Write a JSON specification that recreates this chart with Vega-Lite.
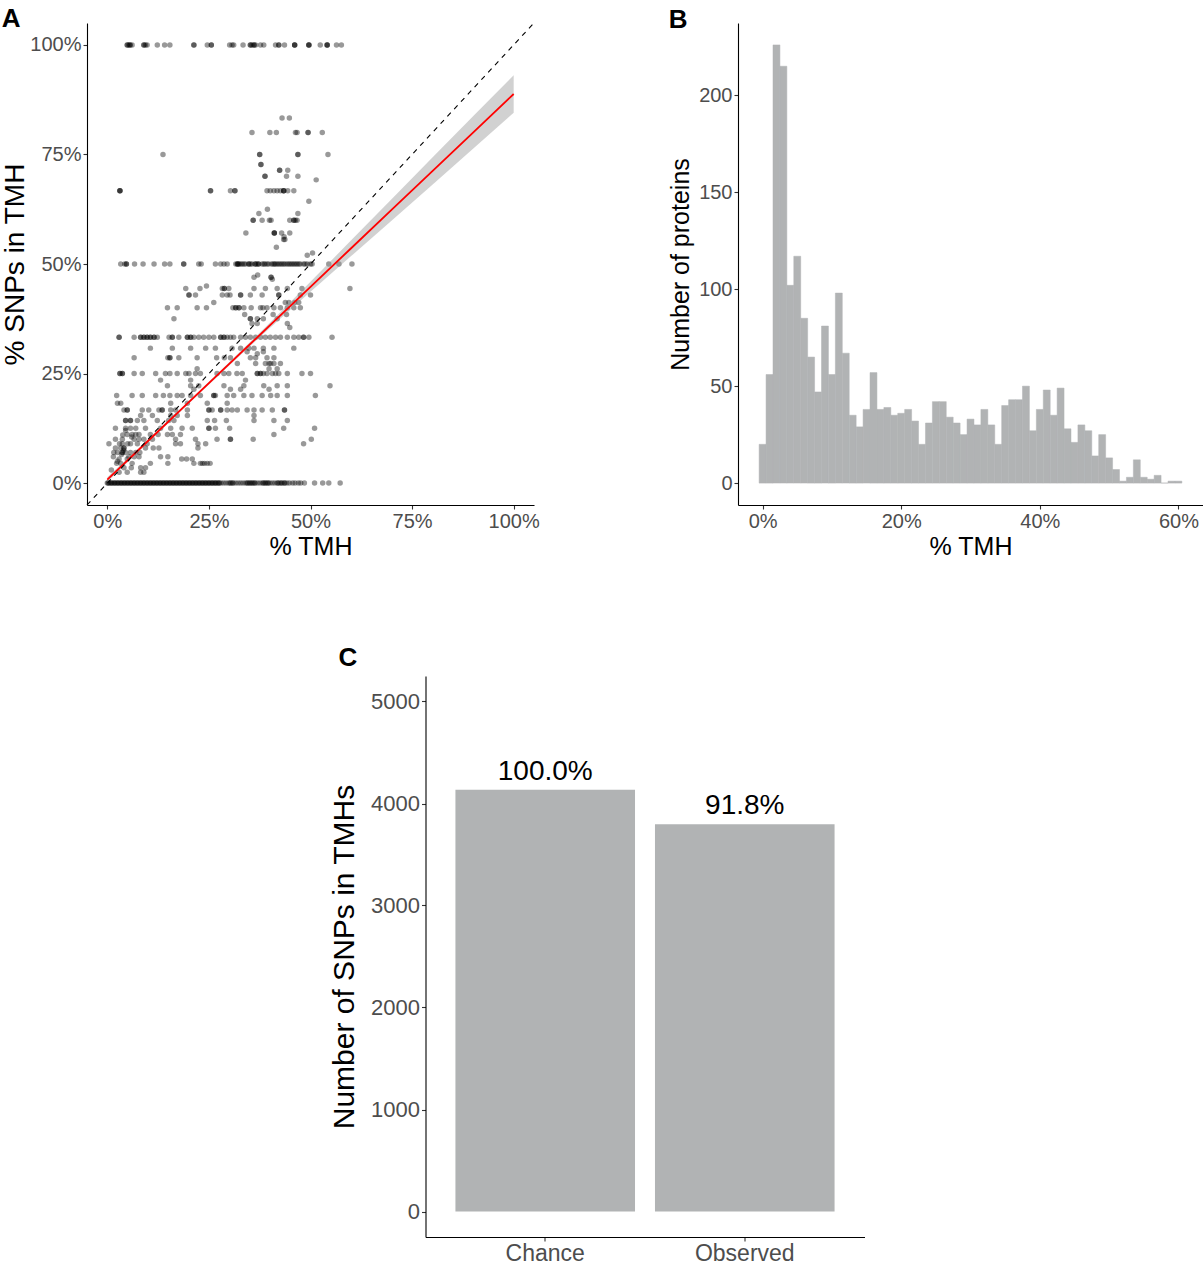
{
"$schema": "https://vega.github.io/schema/vega-lite/v6.json",
"autosize": {"type": "pad"},
"padding": {"left": 1, "top": 6, "right": 0, "bottom": 0},
"background": "white",
"config": {
 "font": "Liberation Sans",
 "view": {"stroke": null},
 "axis": {"domainColor": "black", "domainWidth": 1.1, "tickColor": "#333333", "tickWidth": 1.1, "tickSize": 4, "labelColor": "#4d4d4d", "titleColor": "black", "titleFontWeight": "normal", "grid": false, "labelPadding": 2, "labelFont": "Liberation Sans", "titleFont": "Liberation Sans"},
 "title": {"anchor": "start", "fontSize": 26, "fontWeight": "bold", "frame": "bounds", "baseline": "alphabetic", "font": "Liberation Sans", "color": "black"}
},
"center": true,
"spacing": 86,
"vconcat": [
 {
  "spacing": 128,
  "hconcat": [
   {
    "title": {"text": "A", "offset": -10},
    "width": 447,
    "height": 482,
    "encoding": {
     "x": {"field": "x", "type": "quantitative", "scale": {"domain": [-5, 105], "nice": false, "zero": false}, "axis": {"values": [0, 25, 50, 75, 100], "labelExpr": "datum.value + '%'", "title": "% TMH", "titleFontSize": 25, "labelFontSize": 20, "titlePadding": 3}},
     "y": {"field": "y", "type": "quantitative", "scale": {"domain": [-5, 105], "nice": false, "zero": false}, "axis": {"values": [0, 25, 50, 75, 100], "labelExpr": "datum.value + '%'", "title": "% SNPs in TMH", "titleFontSize": 28, "labelFontSize": 20, "titlePadding": 0}}
    },
    "layer": [
     {
      "data": {"values": [
{"x":4.9,"y":100},{"x":4.9,"y":100},{"x":5.3,"y":100},{"x":5.6,"y":100},{"x":5.6,"y":100},{"x":6.1,"y":100},{"x":9.0,"y":100},{"x":9.0,"y":100},{"x":9.4,"y":100},{"x":9.8,"y":100},{"x":12.3,"y":100},{"x":14.1,"y":100},{"x":15.4,"y":100},{"x":21.3,"y":100},{"x":21.3,"y":100},{"x":24.6,"y":100},{"x":25.6,"y":100},{"x":25.6,"y":100},{"x":30.1,"y":100},{"x":30.7,"y":100},{"x":31.1,"y":100},{"x":33.4,"y":100},{"x":35.2,"y":100},{"x":35.2,"y":100},{"x":35.6,"y":100},{"x":36.1,"y":100},{"x":36.1,"y":100},{"x":36.5,"y":100},{"x":37.7,"y":100},{"x":38.5,"y":100},{"x":41.4,"y":100},{"x":42.2,"y":100},{"x":42.2,"y":100},{"x":43.6,"y":100},{"x":46.1,"y":100},{"x":46.1,"y":100},{"x":46.1,"y":100},{"x":49.6,"y":100},{"x":49.6,"y":100},{"x":49.6,"y":100},{"x":52.4,"y":100},{"x":54.1,"y":100},{"x":54.1,"y":100},{"x":54.1,"y":100},{"x":56.4,"y":100},{"x":57.6,"y":100},
{"x":43.0,"y":83.3},{"x":44.8,"y":83.3},
{"x":35.6,"y":80},{"x":40.0,"y":80},{"x":41.6,"y":80},{"x":46.3,"y":80},{"x":46.7,"y":80},{"x":49.4,"y":80},{"x":49.4,"y":80},{"x":52.9,"y":80},
{"x":13.7,"y":75},{"x":37.5,"y":75},{"x":37.5,"y":75},{"x":46.9,"y":75},{"x":46.9,"y":75},{"x":54.3,"y":75},
{"x":37.8,"y":72.7},{"x":37.8,"y":72.7},
{"x":42.4,"y":71.4},{"x":42.4,"y":71.4},{"x":44.4,"y":71.4},
{"x":38.8,"y":70},{"x":38.8,"y":70},{"x":44.1,"y":70},{"x":46.9,"y":70},
{"x":51.4,"y":69.2},
{"x":3.1,"y":66.7},{"x":3.1,"y":66.7},{"x":3.1,"y":66.7},{"x":25.4,"y":66.7},{"x":25.4,"y":66.7},{"x":30.3,"y":66.7},{"x":31.4,"y":66.7},{"x":31.4,"y":66.7},{"x":39.3,"y":66.7},{"x":40.1,"y":66.7},{"x":41.0,"y":66.7},{"x":41.8,"y":66.7},{"x":42.6,"y":66.7},{"x":43.4,"y":66.7},{"x":43.4,"y":66.7},{"x":43.4,"y":66.7},{"x":44.4,"y":66.7},{"x":45.9,"y":66.7},
{"x":49.6,"y":64.3},
{"x":39.4,"y":62.5},
{"x":37.3,"y":61.5},{"x":46.9,"y":61.5},
{"x":35.9,"y":60},{"x":35.9,"y":60},{"x":38.1,"y":60},{"x":39.9,"y":60},{"x":40.3,"y":60},{"x":44.9,"y":60},{"x":45.9,"y":60},{"x":45.9,"y":60},{"x":46.3,"y":60},{"x":46.7,"y":60},
{"x":34.1,"y":57.1},{"x":41.1,"y":57.1},{"x":41.1,"y":57.1},{"x":41.1,"y":57.1},{"x":42.9,"y":57.1},{"x":44.9,"y":57.1},
{"x":43.4,"y":55.6},{"x":43.7,"y":55.6},{"x":43.5,"y":56.2},
{"x":41.6,"y":53.8},
{"x":49.2,"y":52},{"x":50.5,"y":52.5},
{"x":3.3,"y":50},{"x":4.3,"y":50},{"x":4.7,"y":50},{"x":4.7,"y":50},{"x":6.7,"y":50},{"x":8.8,"y":50},{"x":11.5,"y":50},{"x":14.1,"y":50},{"x":15.4,"y":50},{"x":18.8,"y":50},{"x":18.8,"y":50},{"x":22.5,"y":50},{"x":23.1,"y":50},{"x":26.6,"y":50},{"x":27.9,"y":50},{"x":28.7,"y":50},{"x":29.5,"y":50},{"x":31.6,"y":50},{"x":32.0,"y":50},{"x":32.0,"y":50},{"x":32.4,"y":50},{"x":32.8,"y":50},{"x":33.6,"y":50},{"x":34.0,"y":50},{"x":34.8,"y":50},{"x":34.8,"y":50},{"x":35.6,"y":50},{"x":36.4,"y":50},{"x":36.4,"y":50},{"x":37.2,"y":50},{"x":37.2,"y":50},{"x":38.1,"y":50},{"x":38.5,"y":50},{"x":39.3,"y":50},{"x":39.7,"y":50},{"x":40.8,"y":50},{"x":41.4,"y":50},{"x":41.8,"y":50},{"x":42.2,"y":50},{"x":42.6,"y":50},{"x":43.0,"y":50},{"x":43.8,"y":50},{"x":44.3,"y":50},{"x":45.1,"y":50},{"x":45.5,"y":50},{"x":45.9,"y":50},{"x":46.7,"y":50},{"x":47.1,"y":50},{"x":47.5,"y":50},{"x":48.3,"y":50},{"x":49.2,"y":50},{"x":50.0,"y":50},{"x":50.4,"y":50},{"x":54.5,"y":50},{"x":57.0,"y":50},{"x":60.2,"y":50},
{"x":32.2,"y":50},{"x":33.2,"y":50},{"x":35.2,"y":50},{"x":36.8,"y":50},{"x":38.8,"y":50},{"x":40.4,"y":50},{"x":41.1,"y":50},{"x":43.4,"y":50},{"x":44.7,"y":50},{"x":46.3,"y":50},{"x":48.7,"y":50},
{"x":36.1,"y":47},{"x":37.0,"y":47.5},{"x":40.3,"y":47},{"x":40.3,"y":47},{"x":40.6,"y":46.5},
{"x":19.3,"y":44.4},{"x":22.8,"y":44.4},{"x":24.4,"y":45},{"x":28.3,"y":44.4},{"x":28.8,"y":44.4},{"x":28.8,"y":44.4},{"x":29.9,"y":44.4},{"x":36.1,"y":44.4},{"x":38.9,"y":44.4},{"x":41.8,"y":44.4},{"x":44.3,"y":44.4},{"x":47.9,"y":44.4},{"x":59.7,"y":44.4},
{"x":20.1,"y":42.9},{"x":20.1,"y":42.9},{"x":21.7,"y":42.9},{"x":28.3,"y":42.9},{"x":29.5,"y":42.9},{"x":30.2,"y":42.9},{"x":32.8,"y":42.9},{"x":32.8,"y":42.9},{"x":35.2,"y":42.9},{"x":38.1,"y":42.9},{"x":42.2,"y":42.9},{"x":42.2,"y":42.9},{"x":47.5,"y":42.9},{"x":50.0,"y":42.9},
{"x":26.2,"y":41.2},{"x":43.8,"y":41.2},{"x":44.7,"y":41.2},{"x":46.1,"y":41.2},{"x":47.1,"y":41.2},
{"x":14.8,"y":40},{"x":17.2,"y":40},{"x":22.1,"y":40},{"x":24.4,"y":40},{"x":30.9,"y":40},{"x":31.6,"y":40},{"x":31.6,"y":40},{"x":32.4,"y":40},{"x":32.4,"y":40},{"x":33.6,"y":40},{"x":35.4,"y":40},{"x":37.7,"y":40},{"x":38.3,"y":40},{"x":39.3,"y":40},{"x":41.0,"y":40},{"x":42.6,"y":40},{"x":44.3,"y":40},{"x":45.9,"y":40},{"x":47.5,"y":40},
{"x":33.8,"y":38.5},{"x":40.8,"y":38.5},{"x":44.1,"y":38.5},
{"x":16.4,"y":37.5},{"x":35.2,"y":37.5},{"x":35.2,"y":37.5},{"x":36.9,"y":37.5},{"x":38.4,"y":37.5},{"x":41.8,"y":37.5},
{"x":35.6,"y":36.4},{"x":36.9,"y":36.4},{"x":44.3,"y":36.4},{"x":44.9,"y":35.5},
{"x":2.9,"y":33.3},{"x":2.9,"y":33.3},{"x":6.6,"y":33.3},{"x":8.2,"y":33.3},{"x":8.2,"y":33.3},{"x":9.0,"y":33.3},{"x":9.0,"y":33.3},{"x":9.8,"y":33.3},{"x":9.8,"y":33.3},{"x":10.6,"y":33.3},{"x":10.6,"y":33.3},{"x":11.5,"y":33.3},{"x":11.5,"y":33.3},{"x":12.3,"y":33.3},{"x":15.2,"y":33.3},{"x":16.0,"y":33.3},{"x":16.0,"y":33.3},{"x":17.6,"y":33.3},{"x":19.7,"y":33.3},{"x":19.7,"y":33.3},{"x":20.5,"y":33.3},{"x":20.5,"y":33.3},{"x":21.3,"y":33.3},{"x":22.5,"y":33.3},{"x":23.7,"y":33.3},{"x":25.0,"y":33.3},{"x":26.2,"y":33.3},{"x":27.9,"y":33.3},{"x":27.9,"y":33.3},{"x":28.7,"y":33.3},{"x":28.7,"y":33.3},{"x":29.5,"y":33.3},{"x":30.3,"y":33.3},{"x":31.1,"y":33.3},{"x":32.8,"y":33.3},{"x":34.0,"y":33.3},{"x":35.2,"y":33.3},{"x":36.5,"y":33.3},{"x":37.7,"y":33.3},{"x":38.9,"y":33.3},{"x":40.1,"y":33.3},{"x":41.4,"y":33.3},{"x":42.6,"y":33.3},{"x":44.3,"y":33.3},{"x":45.9,"y":33.3},{"x":47.1,"y":33.3},{"x":48.3,"y":33.3},{"x":48.3,"y":33.3},{"x":49.6,"y":33.3},{"x":55.3,"y":33.3},
{"x":10.6,"y":30.8},{"x":16.0,"y":30.8},{"x":20.5,"y":30.8},{"x":24.2,"y":30.8},{"x":26.6,"y":30.8},{"x":30.7,"y":30.8},{"x":32.8,"y":30.8},{"x":34.8,"y":30.8},{"x":36.1,"y":30.8},{"x":38.4,"y":30.8},{"x":41.0,"y":30.8},{"x":45.9,"y":30.8},
{"x":34.4,"y":30},{"x":36.9,"y":29.5},{"x":38.4,"y":30},
{"x":6.6,"y":28.6},{"x":14.9,"y":28.6},{"x":15.4,"y":28.6},{"x":15.4,"y":28.6},{"x":17.6,"y":28.6},{"x":22.1,"y":28.6},{"x":26.9,"y":28.6},{"x":28.8,"y":28.6},{"x":30.3,"y":28.6},{"x":35.2,"y":28.6},{"x":36.5,"y":28.6},{"x":39.3,"y":28.6},{"x":41.0,"y":28.6},
{"x":32.0,"y":27.3},{"x":36.5,"y":27.3},{"x":38.9,"y":27.3},{"x":39.8,"y":27.3},{"x":40.2,"y":27.3},{"x":41.0,"y":27.3},{"x":42.6,"y":27.3},
{"x":22.1,"y":26.1},{"x":39.8,"y":26.1},{"x":41.8,"y":26.1},
{"x":3.1,"y":25},{"x":3.1,"y":25},{"x":3.7,"y":25},{"x":3.7,"y":25},{"x":6.6,"y":25},{"x":8.6,"y":25},{"x":11.9,"y":25},{"x":14.3,"y":25},{"x":15.4,"y":25},{"x":17.2,"y":25},{"x":19.3,"y":25},{"x":20.1,"y":25},{"x":21.7,"y":25},{"x":22.9,"y":25},{"x":27.0,"y":25},{"x":28.7,"y":25},{"x":29.9,"y":25},{"x":31.9,"y":25},{"x":33.2,"y":25},{"x":36.9,"y":25},{"x":36.9,"y":25},{"x":37.7,"y":25},{"x":37.7,"y":25},{"x":38.4,"y":25},{"x":39.3,"y":25},{"x":40.6,"y":25},{"x":41.4,"y":25},{"x":42.2,"y":25},{"x":44.3,"y":25},{"x":47.9,"y":25},{"x":50.0,"y":25},
{"x":13.1,"y":23.5},{"x":20.5,"y":23.5},{"x":34.0,"y":23.5},
{"x":14.8,"y":22.2},{"x":20.5,"y":22.2},{"x":22.5,"y":22.2},{"x":28.7,"y":22.2},{"x":33.6,"y":22.2},{"x":38.5,"y":22.2},{"x":41.8,"y":22.2},{"x":44.3,"y":22.2},{"x":54.8,"y":22.2},
{"x":21.3,"y":21.4},{"x":30.3,"y":21.4},{"x":32.8,"y":21.4},{"x":39.8,"y":21.4},
{"x":2.3,"y":20},{"x":6.1,"y":20},{"x":8.6,"y":20},{"x":11.9,"y":20},{"x":13.8,"y":20},{"x":15.4,"y":20},{"x":17.2,"y":20},{"x":18.4,"y":20},{"x":20.5,"y":20},{"x":22.9,"y":20},{"x":26.2,"y":20},{"x":26.2,"y":20},{"x":26.6,"y":20},{"x":29.5,"y":20},{"x":31.1,"y":20},{"x":33.6,"y":20},{"x":35.6,"y":20},{"x":38.1,"y":20},{"x":40.2,"y":20},{"x":41.8,"y":20},{"x":44.3,"y":20},{"x":51.2,"y":20},
{"x":2.5,"y":18.2},{"x":3.3,"y":18.2},{"x":15.6,"y":18.2},{"x":19.7,"y":18.2},{"x":24.6,"y":18.2},{"x":29.5,"y":18.2},
{"x":4.1,"y":16.7},{"x":4.9,"y":16.7},{"x":4.9,"y":16.7},{"x":8.6,"y":16.7},{"x":10.2,"y":16.7},{"x":12.7,"y":16.7},{"x":13.5,"y":16.7},{"x":13.5,"y":16.7},{"x":15.6,"y":16.7},{"x":16.8,"y":16.7},{"x":19.7,"y":16.7},{"x":25.0,"y":16.7},{"x":25.0,"y":16.7},{"x":25.8,"y":16.7},{"x":27.9,"y":16.7},{"x":27.9,"y":16.7},{"x":29.5,"y":16.7},{"x":30.7,"y":16.7},{"x":32.0,"y":16.7},{"x":34.4,"y":16.7},{"x":36.1,"y":16.7},{"x":38.1,"y":16.7},{"x":40.6,"y":16.7},{"x":43.6,"y":16.7},{"x":43.6,"y":16.7},
{"x":8.2,"y":15.4},{"x":11.1,"y":15.4},{"x":15.6,"y":15.4},{"x":17.2,"y":15.4},{"x":19.7,"y":15.4},{"x":36.1,"y":15.4},
{"x":4.5,"y":14.3},{"x":4.5,"y":14.3},{"x":5.7,"y":14.3},{"x":5.7,"y":14.3},{"x":7.4,"y":14.3},{"x":9.0,"y":14.3},{"x":12.3,"y":14.3},{"x":15.1,"y":14.3},{"x":16.4,"y":14.3},{"x":24.6,"y":14.3},{"x":26.4,"y":14.3},{"x":29.3,"y":14.3},{"x":36.1,"y":14.3},{"x":41.0,"y":14.3},{"x":44.3,"y":14.3},
{"x":4.5,"y":12.5},{"x":5.7,"y":12.5},{"x":7.0,"y":12.5},{"x":9.4,"y":12.5},{"x":13.1,"y":12.5},{"x":15.6,"y":12.5},{"x":18.4,"y":12.5},{"x":20.9,"y":12.5},{"x":25.0,"y":12.5},{"x":25.0,"y":12.5},{"x":26.6,"y":12.5},{"x":30.1,"y":12.5},{"x":43.4,"y":12.5},{"x":51.0,"y":12.5},
{"x":4.9,"y":11.1},{"x":6.1,"y":11.1},{"x":7.0,"y":11.1},{"x":7.8,"y":11.1},{"x":10.6,"y":11.1},{"x":12.5,"y":11.1},{"x":14.8,"y":11.1},{"x":16.0,"y":11.1},{"x":18.0,"y":11.1},{"x":41.0,"y":11.1},
{"x":2.0,"y":10},{"x":3.7,"y":10},{"x":6.6,"y":10},{"x":7.8,"y":10},{"x":9.0,"y":10},{"x":11.1,"y":10},{"x":16.8,"y":10},{"x":21.7,"y":10},{"x":27.0,"y":10},{"x":30.3,"y":10},{"x":30.3,"y":10},{"x":35.9,"y":10},{"x":50.2,"y":10},
{"x":0.4,"y":9},{"x":3.7,"y":9},{"x":5.7,"y":9},{"x":7.4,"y":9},{"x":9.8,"y":9},{"x":16.8,"y":9},{"x":18.0,"y":9},{"x":22.3,"y":9},{"x":24.2,"y":9},{"x":48.3,"y":9},
{"x":3.3,"y":8},{"x":4.1,"y":8},{"x":4.1,"y":8},{"x":9.4,"y":8},{"x":11.3,"y":8},{"x":12.7,"y":8},{"x":22.3,"y":8},
{"x":1.6,"y":7},{"x":2.5,"y":7},{"x":3.7,"y":7},{"x":3.7,"y":7},{"x":4.5,"y":7},{"x":5.7,"y":7},{"x":7.0,"y":7},{"x":8.0,"y":7},
{"x":5.3,"y":6},{"x":6.6,"y":6},{"x":7.8,"y":6},{"x":13.1,"y":6},{"x":14.9,"y":6},
{"x":2.9,"y":5.5},{"x":4.9,"y":5.5},{"x":18.3,"y":5.5},{"x":19.5,"y":5.5},{"x":20.9,"y":5.5},
{"x":2.3,"y":4.5},{"x":3.3,"y":4.5},{"x":6.1,"y":4.5},{"x":10.6,"y":4.5},{"x":14.9,"y":4.5},{"x":21.3,"y":4.5},{"x":22.9,"y":4.5},{"x":23.4,"y":4.5},{"x":23.9,"y":4.5},{"x":24.6,"y":4.5},{"x":25.3,"y":4.5},
{"x":4.1,"y":3.5},{"x":5.9,"y":3.5},{"x":8.2,"y":3.5},{"x":9.4,"y":3.5},
{"x":2.9,"y":2.5},{"x":4.9,"y":2.5},{"x":8.2,"y":2.5},{"x":9.0,"y":2.5},
{"x":1.5,"y":6},{"x":2.0,"y":8},{"x":3.0,"y":9},{"x":2.5,"y":5},{"x":3.5,"y":6.5},{"x":4.0,"y":7.5},{"x":5.0,"y":9},{"x":6.0,"y":10.5},{"x":4.5,"y":12},{"x":3.8,"y":11},{"x":2.0,"y":12.5},{"x":1.0,"y":3},
{"x":0,"y":0},{"x":0.4,"y":0},{"x":0.8,"y":0},{"x":1.2,"y":0},{"x":1.6,"y":0},{"x":2,"y":0},{"x":2.4,"y":0},{"x":2.8,"y":0},{"x":3.2,"y":0},{"x":3.6,"y":0},{"x":4,"y":0},{"x":4.4,"y":0},{"x":4.8,"y":0},{"x":5.2,"y":0},{"x":5.6,"y":0},{"x":6,"y":0},{"x":6.4,"y":0},{"x":6.8,"y":0},{"x":7.2,"y":0},{"x":7.6,"y":0},{"x":8,"y":0},{"x":8.4,"y":0},{"x":8.8,"y":0},{"x":9.2,"y":0},{"x":9.6,"y":0},{"x":10,"y":0},{"x":10.4,"y":0},{"x":10.8,"y":0},{"x":11.2,"y":0},{"x":11.6,"y":0},{"x":12,"y":0},{"x":12.4,"y":0},{"x":12.8,"y":0},{"x":13.2,"y":0},{"x":13.6,"y":0},{"x":14,"y":0},{"x":14.4,"y":0},{"x":14.8,"y":0},{"x":15.2,"y":0},{"x":15.6,"y":0},{"x":16,"y":0},{"x":16.4,"y":0},{"x":16.8,"y":0},{"x":17.2,"y":0},{"x":17.6,"y":0},{"x":18,"y":0},{"x":18.4,"y":0},{"x":18.8,"y":0},{"x":19.2,"y":0},{"x":19.6,"y":0},{"x":20,"y":0},{"x":20.4,"y":0},{"x":20.8,"y":0},{"x":21.2,"y":0},{"x":21.6,"y":0},{"x":22,"y":0},{"x":22.4,"y":0},{"x":22.8,"y":0},{"x":23.2,"y":0},{"x":23.6,"y":0},{"x":24,"y":0},{"x":24.4,"y":0},{"x":24.8,"y":0},{"x":25.2,"y":0},{"x":25.6,"y":0},{"x":26,"y":0},{"x":26.4,"y":0},{"x":26.8,"y":0},{"x":27.2,"y":0},{"x":27.6,"y":0},{"x":28,"y":0},
{"x":0.2,"y":0},{"x":1,"y":0},{"x":1.8,"y":0},{"x":2.6,"y":0},{"x":3.4,"y":0},{"x":4.2,"y":0},{"x":5,"y":0},{"x":5.8,"y":0},{"x":6.6,"y":0},{"x":7.4,"y":0},{"x":8.2,"y":0},{"x":9,"y":0},{"x":9.8,"y":0},{"x":10.6,"y":0},{"x":11.4,"y":0},{"x":12.2,"y":0},{"x":13,"y":0},{"x":13.8,"y":0},{"x":14.6,"y":0},{"x":15.4,"y":0},{"x":16.2,"y":0},{"x":17,"y":0},{"x":17.8,"y":0},{"x":18.6,"y":0},{"x":19.4,"y":0},{"x":20.2,"y":0},{"x":21,"y":0},{"x":21.8,"y":0},{"x":22.6,"y":0},{"x":23.4,"y":0},{"x":24.2,"y":0},{"x":25,"y":0},{"x":25.8,"y":0},{"x":26.6,"y":0},{"x":27.4,"y":0},
{"x":28.6,"y":0},{"x":29.2,"y":0},{"x":29.8,"y":0},{"x":30.4,"y":0},{"x":31,"y":0},{"x":31.6,"y":0},{"x":32.2,"y":0},{"x":32.8,"y":0},{"x":33.4,"y":0},{"x":34,"y":0},{"x":34.6,"y":0},{"x":35.2,"y":0},{"x":35.8,"y":0},{"x":36.4,"y":0},{"x":37,"y":0},{"x":37.6,"y":0},{"x":38.2,"y":0},{"x":38.8,"y":0},{"x":39.4,"y":0},{"x":40,"y":0},{"x":40.6,"y":0},{"x":41.2,"y":0},{"x":41.8,"y":0},{"x":42.4,"y":0},{"x":43,"y":0},{"x":43.6,"y":0},{"x":44.2,"y":0},{"x":44.8,"y":0},
{"x":30.2,"y":0},{"x":30.8,"y":0},{"x":34.4,"y":0},{"x":35,"y":0},{"x":35.6,"y":0},{"x":36.2,"y":0},{"x":38.4,"y":0},{"x":39,"y":0},{"x":39.6,"y":0},{"x":42,"y":0},{"x":42.8,"y":0},{"x":43.6,"y":0},
{"x":45.6,"y":0},{"x":46.2,"y":0},{"x":47,"y":0},{"x":47.6,"y":0},{"x":48.5,"y":0},{"x":51,"y":0},{"x":53,"y":0},{"x":54.5,"y":0},{"x":57.3,"y":0}
      ]},
      "mark": {"type": "circle", "size": 30, "opacity": 0.4, "color": "black"}
     },
     {
      "data": {"values": [
{"x":0,"y":0.8,"lo":0.25,"hi":1.35},{"x":10,"y":9.6,"lo":9.2,"hi":10.0},{"x":20,"y":18.4,"lo":18.1,"hi":18.7},{"x":30,"y":27.2,"lo":26.85,"hi":27.55},{"x":40,"y":36.0,"lo":35.4,"hi":36.6},{"x":50,"y":44.8,"lo":43.65,"hi":45.95},{"x":60,"y":53.6,"lo":51.8,"hi":55.4},{"x":70,"y":62.4,"lo":59.95,"hi":64.85},{"x":80,"y":71.2,"lo":68.1,"hi":74.3},{"x":90,"y":80.0,"lo":76.3,"hi":83.7},{"x":100,"y":88.8,"lo":84.5,"hi":93.1}
      ]},
      "layer": [
       {"mark": {"type": "area", "color": "#999999", "opacity": 0.45}, "encoding": {"y": {"field": "lo", "type": "quantitative"}, "y2": {"field": "hi"}}},
       {"mark": {"type": "line", "color": "red", "strokeWidth": 1.8}}
      ]
     },
     {
      "data": {"values": [{"x": -5, "y": -5, "x2": 105, "y2": 105}]},
      "mark": {"type": "rule", "color": "black", "strokeWidth": 1.1, "strokeDash": [5, 5]},
      "encoding": {"x2": {"field": "x2"}, "y2": {"field": "y2"}}
     }
    ]
   },
   {
    "title": {"text": "B", "offset": -10},
    "width": 465,
    "height": 482,
    "data": {"values": [
{"lo":-0.5,"hi":0.5,"n":20},{"lo":0.5,"hi":1.5,"n":56},{"lo":1.5,"hi":2.5,"n":226},{"lo":2.5,"hi":3.5,"n":215},{"lo":3.5,"hi":4.5,"n":102},{"lo":4.5,"hi":5.5,"n":117},{"lo":5.5,"hi":6.5,"n":85},{"lo":6.5,"hi":7.5,"n":65},{"lo":7.5,"hi":8.5,"n":47},{"lo":8.5,"hi":9.5,"n":81},{"lo":9.5,"hi":10.5,"n":56},{"lo":10.5,"hi":11.5,"n":98},{"lo":11.5,"hi":12.5,"n":67},{"lo":12.5,"hi":13.5,"n":35},{"lo":13.5,"hi":14.5,"n":29},{"lo":14.5,"hi":15.5,"n":38},{"lo":15.5,"hi":16.5,"n":57},{"lo":16.5,"hi":17.5,"n":38},{"lo":17.5,"hi":18.5,"n":39},{"lo":18.5,"hi":19.5,"n":35},{"lo":19.5,"hi":20.5,"n":36},{"lo":20.5,"hi":21.5,"n":38},{"lo":21.5,"hi":22.5,"n":32},{"lo":22.5,"hi":23.5,"n":20},{"lo":23.5,"hi":24.5,"n":31},{"lo":24.5,"hi":25.5,"n":42},{"lo":25.5,"hi":26.5,"n":42},{"lo":26.5,"hi":27.5,"n":34},{"lo":27.5,"hi":28.5,"n":31},{"lo":28.5,"hi":29.5,"n":25},{"lo":29.5,"hi":30.5,"n":33},{"lo":30.5,"hi":31.5,"n":30},{"lo":31.5,"hi":32.5,"n":38},{"lo":32.5,"hi":33.5,"n":30},{"lo":33.5,"hi":34.5,"n":20},{"lo":34.5,"hi":35.5,"n":40},{"lo":35.5,"hi":36.5,"n":43},{"lo":36.5,"hi":37.5,"n":43},{"lo":37.5,"hi":38.5,"n":50},{"lo":38.5,"hi":39.5,"n":27},{"lo":39.5,"hi":40.5,"n":38},{"lo":40.5,"hi":41.5,"n":48},{"lo":41.5,"hi":42.5,"n":35},{"lo":42.5,"hi":43.5,"n":49},{"lo":43.5,"hi":44.5,"n":28},{"lo":44.5,"hi":45.5,"n":21},{"lo":45.5,"hi":46.5,"n":30},{"lo":46.5,"hi":47.5,"n":27},{"lo":47.5,"hi":48.5,"n":14},{"lo":48.5,"hi":49.5,"n":25},{"lo":49.5,"hi":50.5,"n":13},{"lo":50.5,"hi":51.5,"n":7},{"lo":51.5,"hi":52.5,"n":1},{"lo":52.5,"hi":53.5,"n":3},{"lo":53.5,"hi":54.5,"n":12},{"lo":54.5,"hi":55.5,"n":3},{"lo":55.5,"hi":56.5,"n":2},{"lo":56.5,"hi":57.5,"n":4},{"lo":57.5,"hi":58.5,"n":0},{"lo":58.5,"hi":59.5,"n":1},{"lo":59.5,"hi":60.5,"n":1}
    ]},
    "mark": {"type": "bar", "color": "#b1b3b4", "stroke": "#b1b3b4", "strokeWidth": 0.5},
    "encoding": {
     "x": {"field": "lo", "type": "quantitative", "scale": {"domain": [-3.55, 63.55], "nice": false, "zero": false}, "axis": {"values": [0, 20, 40, 60], "labelExpr": "datum.value + '%'", "title": "% TMH", "titleFontSize": 25, "labelFontSize": 20, "titlePadding": 3}},
     "x2": {"field": "hi"},
     "y": {"field": "n", "type": "quantitative", "scale": {"domain": [-11.3, 237.3], "nice": false, "zero": false}, "axis": {"values": [0, 50, 100, 150, 200], "title": "Number of proteins", "titleFontSize": 25, "labelFontSize": 20, "titlePadding": 5}},
     "y2": {"datum": 0}
    }
   }
  ]
 },
 {
  "title": {"text": "C", "offset": 5, "dx": 9},
  "width": 439,
  "height": 561,
  "data": {"values": [{"group": "Chance", "count": 4135, "label": "100.0%"}, {"group": "Observed", "count": 3796, "label": "91.8%"}]},
  "encoding": {
   "x": {"field": "group", "type": "nominal", "sort": null, "scale": {"paddingInner": 0.1, "paddingOuter": 0.15}, "axis": {"title": null, "labelAngle": 0, "labelFontSize": 23, "labelPadding": 1}},
   "y": {"field": "count", "type": "quantitative", "scale": {"domain": [-250, 5250], "nice": false, "zero": false}, "axis": {"values": [0, 1000, 2000, 3000, 4000, 5000], "format": "d", "title": "Number of SNPs in TMHs", "titleFontSize": 30, "labelFontSize": 22, "titlePadding": 11}}
  },
  "layer": [
   {"mark": {"type": "bar", "color": "#b1b3b4"}, "encoding": {"y2": {"datum": 0}}},
   {"mark": {"type": "text", "baseline": "alphabetic", "dy": -10, "fontSize": 28, "color": "black", "font": "Liberation Sans"}, "encoding": {"text": {"field": "label"}}}
  ]
 }
]
}
